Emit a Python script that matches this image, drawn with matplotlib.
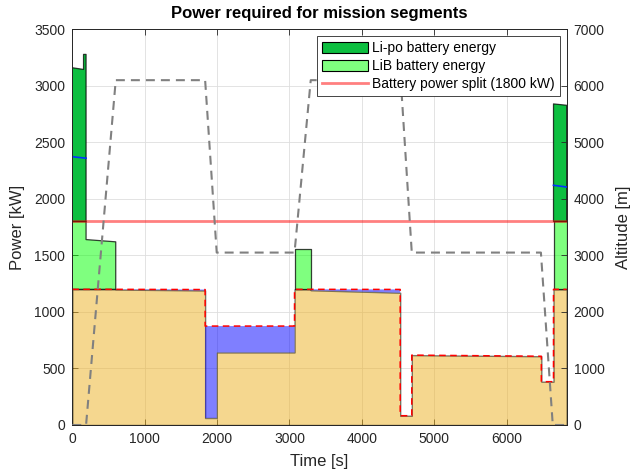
import numpy as np
import matplotlib
matplotlib.use("Agg")
import matplotlib.pyplot as plt
from matplotlib.patches import Patch
from matplotlib.lines import Line2D

plt.rcParams["font.family"] = ["Liberation Sans", "DejaVu Sans"]

# Mission segment boundaries [s]
seg_edges = [0, 155, 190, 600, 1835, 1995, 3070, 3294, 4530, 4690, 6480, 6648, 6830]
# Required power at start / end of each segment [kW]
p_req_start = [3160, 3278, 1640, 1200, 875, 875, 1557, 1200, 82, 618, 383, 2840]
p_req_end = [3145, 3278, 1620, 1198, 875, 875, 1557, 1199, 82, 608, 383, 2828]
# Power delivered by the fuel-based source [kW]
p_fuel_start = [1200, 1200, 1200, 1198, 62, 642, 1200, 1192, 82, 618, 383, 1200]
p_fuel_end = [1200, 1200, 1200, 1190, 62, 642, 1200, 1170, 82, 608, 383, 1200]
# Mean battery power level in the high-demand segments [kW]
p_mean_start = [2373, 2362, np.nan, np.nan, np.nan, np.nan, np.nan, np.nan, np.nan, np.nan, np.nan, 2120]
p_mean_end = [2362, 2360, np.nan, np.nan, np.nan, np.nan, np.nan, np.nan, np.nan, np.nan, np.nan, 2105]

fuel_cap = 1200      # kW, max fuel-source power
battery_split = 1800  # kW, LiB / Li-po split

# Flight altitude profile
alt_time = [0, 190, 600, 1835, 1995, 3070, 3294, 4538, 4690, 6474, 6638, 6830]
alt_m = [0, 0, 6100, 6100, 3050, 3050, 6100, 6100, 3050, 3050, 0, 0]


def stepwise(start, end):
    t = np.column_stack([seg_edges[:-1], seg_edges[1:]]).ravel()
    v = np.column_stack([start, end]).ravel().astype(float)
    return t, v


t, p_req = stepwise(p_req_start, p_req_end)
_, p_fuel = stepwise(p_fuel_start, p_fuel_end)
_, p_mean = stepwise(p_mean_start, p_mean_end)
p_capped = np.minimum(p_req, fuel_cap)

fig = plt.figure(figsize=(6.36, 4.74), dpi=100)
ax = fig.add_axes([0.1137, 0.1034, 0.7773, 0.8348])

ink = "#262626"
grid_c = "#DEDEDE"
lipo_c = (0.05, 0.75, 0.25)
lib_c = (0.0, 1.0, 0.0, 0.5)

# Fuel-based source
ax.fill_between(t, 0, p_fuel, facecolor="#EDB120", edgecolor="k", alpha=0.5, lw=1.0, zorder=2)
# Required power not covered by the fuel-based source
ax.fill_between(t, p_fuel, p_capped, where=p_capped > p_fuel + 0.5,
                facecolor=(0, 0, 1, 0.5), edgecolor="none", lw=0, zorder=2)
# LiB battery share
ax.fill_between(t, fuel_cap, np.minimum(p_req, battery_split), where=p_req > fuel_cap + 1,
                facecolor=lib_c, edgecolor=(0, 0, 0, 0.75), lw=0.9, zorder=3)
# Li-po battery share
ax.fill_between(t, battery_split, p_req, where=p_req > battery_split,
                facecolor=lipo_c, edgecolor=(0, 0, 0, 0.75), lw=0.9, zorder=3)
ax.plot(t, p_mean, color=(0, 0.2, 1), lw=1.2, zorder=4)

ax.plot(t, p_capped, color="red", lw=1.1, ls=(0, (4.3, 2.9)), zorder=5)
ax.axhline(battery_split, color=(1, 0, 0, 0.5), lw=2, zorder=5)

ax.set_xlim(0, 6830)
ax.set_ylim(0, 3500)
ax.set_xticks(np.arange(0, 7000, 1000))
ax.set_yticks(np.arange(0, 3501, 500))
ax.grid(True, color=grid_c, lw=0.6)
ax.set_axisbelow(True)
ax.tick_params(direction="in", length=4, colors=ink, labelsize=10, top=True,
               labelcolor=ink, width=0.6, pad=5)
for s in ax.spines.values():
    s.set_color(ink)
    s.set_linewidth(0.6)
ax.set_xlabel("Time [s]", fontsize=12, color=ink, labelpad=6)
ax.set_ylabel("Power [kW]", fontsize=12, color=ink, labelpad=7)
ax.set_title("Power required for mission segments", fontsize=12, fontweight="bold",
             color="k", pad=8)

ax2 = ax.twinx()
ax2.plot(alt_time, alt_m, color=(0.5, 0.5, 0.5), lw=1.5, ls=(0, (4.3, 2.9)), zorder=6)
ax2.set_ylim(0, 7000)
ax2.set_yticks(np.arange(0, 7001, 1000))
ax2.tick_params(direction="in", length=4, colors=ink, labelsize=10, labelcolor=ink,
                width=0.6, pad=5)
for s in ax2.spines.values():
    s.set_color(ink)
    s.set_linewidth(0.6)
ax2.set_ylabel("Altitude [m]", fontsize=12, color=ink, labelpad=8)

handles = [
    Patch(facecolor=lipo_c, edgecolor="k", lw=0.8),
    Patch(facecolor=lib_c, edgecolor="k", lw=0.8),
    Line2D([], [], color=(1, 0, 0, 0.5), lw=2),
]
labels = ["Li-po battery energy", "LiB battery energy", "Battery power split (1800 kW)"]
leg = ax2.legend(handles, labels, loc="upper right", fontsize=10, frameon=True,
                 fancybox=False, framealpha=1, edgecolor=ink, handlelength=3.3,
                 handleheight=0.9, handletextpad=0.3, labelspacing=0.3,
                 borderpad=0.35, borderaxespad=0.5)
leg.get_frame().set_linewidth(0.6)
leg.set_zorder(10)

fig.savefig("out.png", dpi=100)
